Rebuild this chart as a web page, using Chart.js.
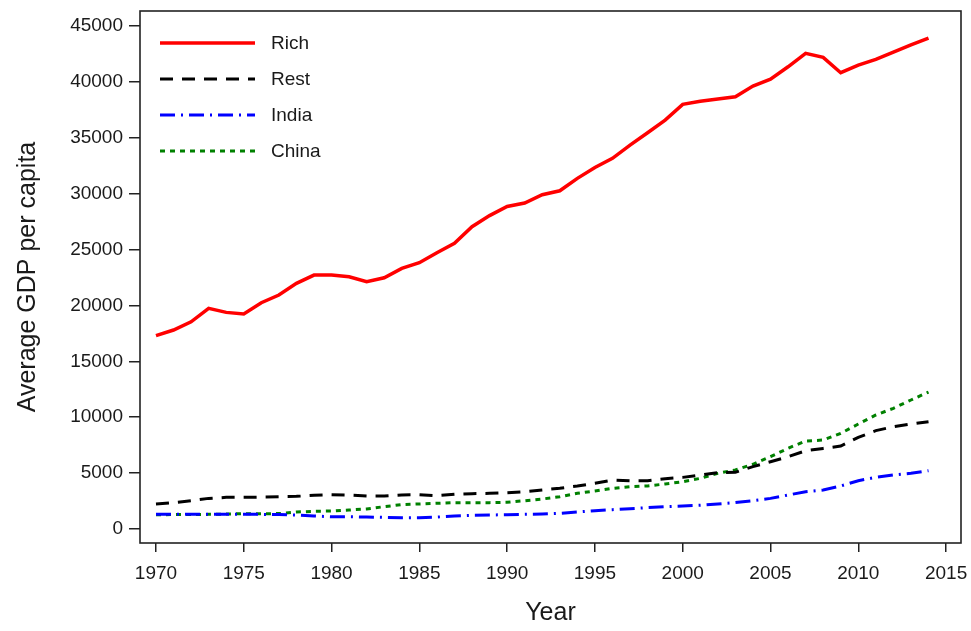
<!DOCTYPE html>
<html>
<head>
<meta charset="utf-8">
<script src="https://cdn.jsdelivr.net/npm/chart.js@4.4.1/dist/chart.umd.min.js"></script>
<style>
  html, body { margin: 0; padding: 0; background: #fff; }
  #wrap { width: 971px; height: 631px; }
</style>
</head>
<body>
<div id="wrap"><canvas id="c" width="971" height="631"></canvas></div>
<script>
const years = [1970,1971,1972,1973,1974,1975,1976,1977,1978,1979,1980,1981,1982,1983,1984,1985,1986,1987,1988,1989,1990,1991,1992,1993,1994,1995,1996,1997,1998,1999,2000,2001,2002,2003,2004,2005,2006,2007,2008,2009,2010,2011,2012,2013,2014];
const rich  = [17300,17800,18540,19740,19380,19230,20240,20930,21980,22720,22720,22570,22120,22480,23320,23820,24720,25560,27040,28040,28850,29160,29900,30260,31370,32350,33160,34350,35450,36580,37990,38260,38460,38670,39630,40250,41350,42550,42190,40820,41500,42010,42670,43320,43920];
const rest  = [2240,2350,2530,2740,2830,2830,2860,2890,2920,3010,3070,3040,2950,2950,3040,3070,2980,3100,3160,3190,3250,3340,3490,3650,3850,4090,4380,4320,4320,4500,4620,4830,5040,5070,5580,6020,6470,7000,7210,7420,8200,8800,9150,9390,9600];
const india = [1310,1310,1310,1310,1310,1310,1310,1290,1250,1160,1100,1100,1070,1040,1010,1010,1070,1160,1220,1250,1280,1310,1340,1400,1520,1640,1730,1820,1910,2000,2060,2120,2240,2360,2540,2740,3040,3340,3490,3850,4320,4620,4830,4980,5220];
const china = [1280,1290,1300,1310,1340,1370,1370,1380,1520,1580,1610,1700,1790,2000,2180,2240,2300,2360,2360,2360,2390,2530,2680,2890,3190,3400,3640,3780,3850,4030,4230,4530,4980,5280,5790,6470,7220,7870,7960,8560,9390,10200,10800,11540,12250];
const xTicks = [1970,1975,1980,1985,1990,1995,2000,2005,2010,2015];
const yTicks = [0,5000,10000,15000,20000,25000,30000,35000,40000,45000];
const seriesNames = ['Rich','Rest','India','China'];

const pts = arr => arr.map((v,i) => ({x: years[i], y: v}));

const FONT = '"Liberation Sans", Arial, sans-serif';

const boxPlugin = {
  id: 'box',
  afterDatasetsDraw(chart) {
    const {ctx, chartArea: a} = chart;
    ctx.save();
    ctx.strokeStyle = '#222';
    ctx.lineWidth = 1.6;
    ctx.strokeRect(a.left, a.top, a.right - a.left, a.bottom - a.top);
    ctx.restore();
  }
};

const legendPlugin = {
  id: 'customLegend',
  afterDraw(chart) {
    const {ctx} = chart;
    const x0 = 160, x1 = 255, tx = 271, y0 = 43, dy = 36;
    ctx.save();
    chart.data.datasets.forEach((ds, i) => {
      const y = y0 + i * dy;
      ctx.beginPath();
      ctx.strokeStyle = ds.borderColor;
      ctx.lineWidth = ds.borderWidth;
      ctx.setLineDash(ds.borderDash || []);
      ctx.lineCap = 'butt';
      ctx.moveTo(x0, y);
      ctx.lineTo(x1, y);
      ctx.stroke();
      ctx.setLineDash([]);
      ctx.fillStyle = '#1a1a1a';
      ctx.font = '19px ' + FONT;
      ctx.textBaseline = 'middle';
      ctx.textAlign = 'left';
      ctx.fillText(ds.label, tx, y + 1);
    });
    ctx.restore();
  }
};

new Chart(document.getElementById('c'), {
  type: 'line',
  data: {
    datasets: [
      { label: seriesNames[0], data: pts(rich),  borderColor: '#ff0000', borderWidth: 3.5, borderDash: [] },
      { label: seriesNames[1], data: pts(rest),  borderColor: '#000000', borderWidth: 3, borderDash: [13, 9] },
      { label: seriesNames[2], data: pts(india), borderColor: '#0000ff', borderWidth: 3, borderDash: [15, 6, 2, 6] },
      { label: seriesNames[3], data: pts(china), borderColor: '#008000', borderWidth: 3, borderDash: [5, 5] }
    ]
  },
  options: {
    responsive: false,
    animation: false,
    devicePixelRatio: 1,
    layout: { padding: { top: 11, right: 10, left: 0, bottom: 0 } },
    elements: { point: { radius: 0 }, line: { tension: 0, borderCapStyle: 'butt' } },
    plugins: { legend: { display: false }, tooltip: { enabled: false } },
    scales: {
      x: {
        type: 'linear',
        min: 1969.09,
        max: 2015.85,
        afterBuildTicks: s => { s.ticks = xTicks.map(v => ({value: v})); },
        afterFit: s => { s.height = 88; s.paddingLeft = 0; s.paddingRight = 0; },
        grid: { drawOnChartArea: false, drawTicks: true, tickLength: 9, color: '#222', lineWidth: 1.5 },
        border: { display: false },
        ticks: { color: '#1a1a1a', font: { family: FONT, size: 19 }, padding: 10, maxRotation: 0, callback: v => String(v) },
        title: { display: true, text: 'Year', color: '#1a1a1a', font: { family: FONT, size: 25, lineHeight: 1 }, padding: { top: 0, bottom: 5 } }
      },
      y: {
        type: 'linear',
        min: -1252,
        max: 46342,
        afterBuildTicks: s => { s.ticks = yTicks.map(v => ({value: v})); },
        afterFit: s => { s.width = 140; s.paddingTop = 0; s.paddingBottom = 0; },
        grid: { drawOnChartArea: false, drawTicks: true, tickLength: 11, color: '#222', lineWidth: 1.5 },
        border: { display: false },
        ticks: { color: '#1a1a1a', font: { family: FONT, size: 19 }, padding: 6, callback: v => String(v) },
        title: { display: true, text: 'Average GDP per capita', color: '#1a1a1a', font: { family: FONT, size: 25, lineHeight: 1 }, padding: { top: 16, bottom: 0 } }
      }
    }
  },
  plugins: [boxPlugin, legendPlugin]
});
</script>
</body>
</html>
